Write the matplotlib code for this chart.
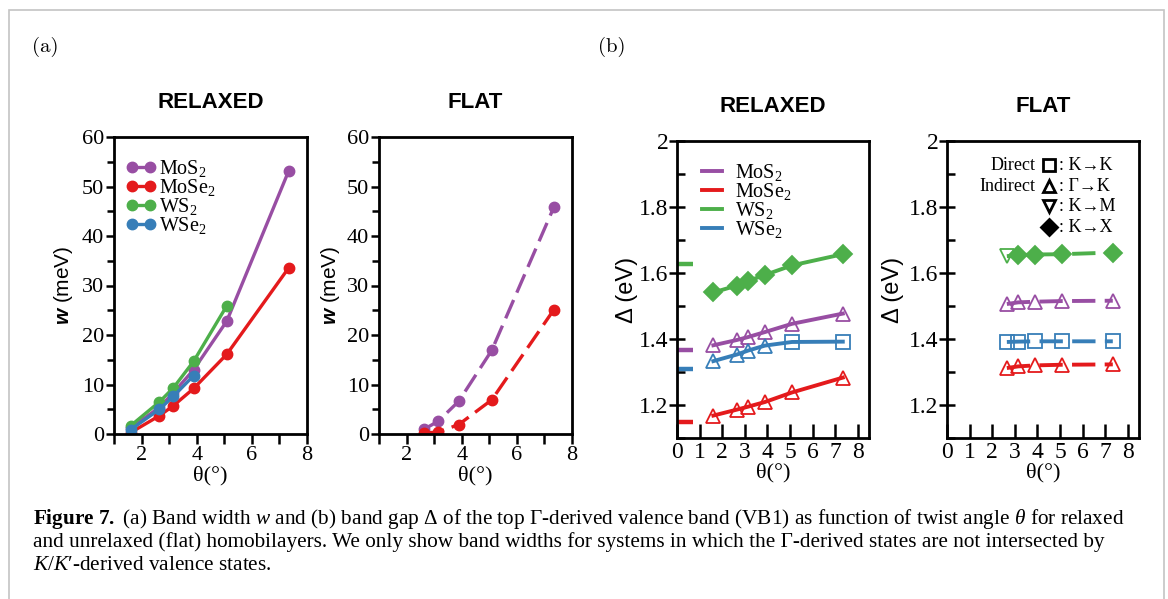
import matplotlib
matplotlib.use("Agg")
import matplotlib.pyplot as plt
from matplotlib.patches import Rectangle
from matplotlib.ticker import MultipleLocator

plt.rcParams['font.family'] = ['Liberation Serif', 'DejaVu Serif']
plt.rcParams['mathtext.fontset'] = 'custom'
plt.rcParams['mathtext.rm'] = 'Liberation Serif'
plt.rcParams['mathtext.it'] = 'Liberation Serif:italic'
plt.rcParams['mathtext.bf'] = 'Liberation Serif:bold'
plt.rcParams['mathtext.sf'] = 'Liberation Sans:bold:italic'

# ---------------- data ----------------
materials = ['MoS2', 'MoSe2', 'WS2', 'WSe2']
labels = ['MoS$_2$', 'MoSe$_2$', 'WS$_2$', 'WSe$_2$']
colors = {'MoS2': '#984ea3', 'MoSe2': '#e41a1c', 'WS2': '#4daf4a', 'WSe2': '#377eb8'}

theta_all = [1.61, 2.65, 3.15, 3.89, 5.09, 7.34]

# (a) band width w (meV), relaxed
w_relax_theta = {
    'MoS2': [1.61, 2.65, 3.15, 3.89, 5.09, 7.34],
    'MoSe2': [1.61, 2.65, 3.15, 3.89, 5.09, 7.34],
    'WS2': [1.61, 2.65, 3.15, 3.89, 5.09],
    'WSe2': [1.61, 2.65, 3.15, 3.89],
}
w_relax = {
    'MoS2': [1.2, 5.4, 8.3, 13.0, 22.8, 53.2],
    'MoSe2': [0.3, 3.7, 5.7, 9.2, 16.1, 33.6],
    'WS2': [1.7, 6.5, 9.3, 14.7, 25.9],
    'WSe2': [0.9, 5.0, 7.6, 11.8],
}
# (a) band width w (meV), flat
w_flat_theta = [2.65, 3.15, 3.89, 5.09, 7.34]
w_flat = {
    'MoS2': [1.0, 2.6, 6.6, 16.9, 45.8],
    'MoSe2': [0.2, 0.4, 1.9, 6.9, 25.1],
}

# (b) band gap Delta (eV), relaxed
gap_relax = {
    'MoS2': [1.381, 1.397, 1.406, 1.421, 1.446, 1.477],
    'MoSe2': [1.168, 1.186, 1.195, 1.209, 1.238, 1.283],
    'WS2': [1.541, 1.562, 1.576, 1.594, 1.623, 1.657],
    'WSe2': [1.333, 1.353, 1.365, 1.380, 1.391, 1.392],
}
gap_relax_type = {
    'MoS2': ['GK'] * 6,
    'MoSe2': ['GK'] * 6,
    'WS2': ['KX'] * 6,
    'WSe2': ['GK', 'GK', 'GK', 'GK', 'KK', 'KK'],
}
gap_monolayer = {'MoS2': 1.368, 'MoSe2': 1.147, 'WS2': 1.627, 'WSe2': 1.310}

# (b) band gap Delta (eV), flat
gap_flat_theta = [2.65, 3.15, 3.89, 5.09, 7.34]
gap_flat = {
    'MoS2': [1.506, 1.511, 1.513, 1.515, 1.516],
    'MoSe2': [1.312, 1.317, 1.320, 1.322, 1.323],
    'WS2': [1.651, 1.654, 1.656, 1.657, 1.662],
    'WSe2': [1.391, 1.392, 1.393, 1.393, 1.393],
}
gap_flat_type = {
    'MoS2': ['GK'] * 5,
    'MoSe2': ['GK'] * 5,
    'WS2': ['KM', 'KX', 'KX', 'KX', 'KX'],
    'WSe2': ['KK'] * 5,
}
type_marker = {'KK': 's', 'GK': '^', 'KM': 'v', 'KX': 'D'}
type_filled = {'KK': False, 'GK': False, 'KM': False, 'KX': True}
legend_rows = [('Direct', 'KK', ': K→K'), ('Indirect', 'GK', ': Γ→K'),
               ('', 'KM', ': K→M'), ('', 'KX', ': K→X')]

# ---------------- figure ----------------
W, H = 1168, 599
fig = plt.figure(figsize=(W / 100, H / 100), dpi=100)


def ax_px(left, top, right, bottom):
    return fig.add_axes([left / W, 1 - bottom / H, (right - left) / W, (bottom - top) / H])


fig.add_artist(Rectangle((9 / W, -0.1), (1164 - 9) / W, 1 - 10 / H + 0.1,
                         transform=fig.transFigure, fill=False, ec='#c4c4c4', lw=1.2))

ax1 = ax_px(114, 137, 307, 434)
ax2 = ax_px(379, 137, 572, 434)
ax3 = ax_px(677, 141, 869, 438)
ax4 = ax_px(947, 141, 1139, 438)

sans = ['Liberation Sans', 'DejaVu Sans']
DASH = (6.0, 2.4)

for ax, lx in ((ax1, -0.20), (ax2, -0.19)):
    ax.set_xlim(1, 8)
    ax.set_ylim(0, 60)
    ax.xaxis.set_major_locator(MultipleLocator(2))
    ax.xaxis.set_minor_locator(MultipleLocator(1))
    ax.yaxis.set_major_locator(MultipleLocator(10))
    ax.yaxis.set_minor_locator(MultipleLocator(5))
    ax.tick_params(which='both', direction='out', width=1.8, labelsize=16, pad=1)
    ax.tick_params(which='major', length=6)
    ax.tick_params(which='minor', length=5)
    ax.tick_params(axis='x', which='both', length=7, pad=2)
    for s in ax.spines.values():
        s.set_linewidth(2.0)
    ax.set_ylabel(r'$\mathsf{w}$ (meV)', family=sans, fontsize=15)
    ax.yaxis.set_label_coords(lx, 0.5)
    ax.set_xlabel('θ(°)', fontsize=16, labelpad=0)

for m, lab in zip(materials, labels):
    ax1.plot(w_relax_theta[m], w_relax[m], '-o', color=colors[m], lw=2.4, ms=7.5, label=lab)
ax1.legend(loc='upper left', bbox_to_anchor=(0.02, 0.955), frameon=False, fontsize=14.5,
           numpoints=2, handlelength=1.5, handletextpad=0.15, labelspacing=-0.1,
           borderaxespad=0)

for m in ['MoS2', 'MoSe2']:
    ax2.plot(w_flat_theta, w_flat[m], '--o', color=colors[m], lw=2.4, ms=7.5, dashes=DASH)

for ax, lx in ((ax3, -0.205), (ax4, -0.225)):
    ax.set_xlim(0, 8.5)
    ax.set_ylim(1.1, 2.0)
    ax.xaxis.set_major_locator(MultipleLocator(1))
    ax.yaxis.set_major_locator(MultipleLocator(0.2))
    ax.yaxis.set_minor_locator(MultipleLocator(0.1))
    ax.yaxis.set_major_formatter(plt.FuncFormatter(lambda v, p: f'{v:g}'))
    ax.tick_params(axis='x', which='major', direction='in', length=10, width=1.8, labelsize=17, pad=3)
    ax.tick_params(axis='y', which='major', direction='inout', length=12, width=1.8, labelsize=17, pad=0)
    ax.tick_params(axis='y', which='minor', direction='in', length=6, width=1.8)
    for s in ax.spines.values():
        s.set_linewidth(2.0)
    ax.set_ylabel('Δ (eV)', family=sans, fontsize=17)
    ax.yaxis.set_label_coords(lx, 0.5)
    ax.set_xlabel('θ(°)', fontsize=16, labelpad=0)


def draw_markers(ax, xs, ys, types, color):
    for t in ['KK', 'GK', 'KM', 'KX']:
        px = [x for x, tt in zip(xs, types) if tt == t]
        py = [y for y, tt in zip(ys, types) if tt == t]
        if not px:
            continue
        ax.plot(px, py, ls='none', marker=type_marker[t], ms=10 if t != 'KX' else 9.5,
                mfc=color if type_filled[t] else 'none', mec=color, mew=1.3)


for m, lab in zip(materials, labels):
    ax3.plot(theta_all, gap_relax[m], '-', color=colors[m], lw=2.8, label=lab)
    draw_markers(ax3, theta_all, gap_relax[m], gap_relax_type[m], colors[m])
    ax3.plot([0, 0.7], [gap_monolayer[m]] * 2, '-', color=colors[m], lw=3.2, solid_capstyle='butt')
ax3.legend(loc='upper left', bbox_to_anchor=(0.09, 0.955), frameon=False, fontsize=14.5,
           handlelength=1.0, handletextpad=0.6, labelspacing=-0.1, borderaxespad=0)

for m in materials:
    ax4.plot(gap_flat_theta, gap_flat[m], '--', color=colors[m], lw=2.8, dashes=DASH)
    draw_markers(ax4, gap_flat_theta, gap_flat[m], gap_flat_type[m], colors[m])

# gap-type key in FLAT panel
row_y = [0.919, 0.848, 0.781, 0.710]
for (word, t, desc), yy in zip(legend_rows, row_y):
    if word:
        ax4.text(0.46, yy, word, transform=ax4.transAxes, ha='right', va='center', fontsize=13)
    ax4.plot([0.53], [yy], transform=ax4.transAxes, ls='none', marker=type_marker[t],
             ms=8.5 if t != 'KX' else 8, mfc='k' if type_filled[t] else 'none', mec='k', mew=2.0,
             clip_on=False)
    ax4.text(0.585, yy, desc, transform=ax4.transAxes, ha='left', va='center', fontsize=13)

# titles
for ax, title in ((ax1, 'RELAXED'), (ax2, 'FLAT'), (ax3, 'RELAXED'), (ax4, 'FLAT')):
    ax.text(0.5, 1 + 24 / 297, title, transform=ax.transAxes, ha='center', va='bottom',
            fontsize=16, fontweight='bold', family=sans)

fig.text(45 / W, 1 - 47 / H, '(a)', family='cmr10', fontsize=15, ha='center', va='center')
fig.text(612 / W, 1 - 47 / H, '(b)', family='cmr10', fontsize=15, ha='center', va='center')

cap = [
    r"$\mathbf{Figure\ 7.}$ (a) Band width $w$ and (b) band gap Δ of the top Γ-derived valence band (VB1) as function of twist angle $\theta$ for relaxed",
    "and unrelaxed (flat) homobilayers. We only show band widths for systems in which the Γ-derived states are not intersected by",
    r"$K/K$′-derived valence states.",
]
for i, line in enumerate(cap):
    fig.text(33 / W, 1 - (519 + 23.5 * i) / H, line, fontsize=15.3, ha='left', va='center')

fig.savefig('out.png', dpi=100)
